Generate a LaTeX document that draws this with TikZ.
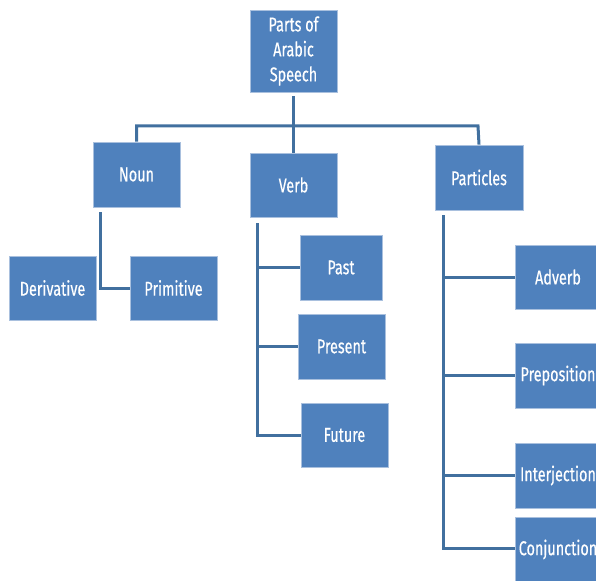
\documentclass[tikz,border=0pt]{standalone}
\usepackage{fontspec}
\setmainfont{Fira Sans}[FakeStretch=0.72,FakeBold=0.4]
\definecolor{boxfill}{HTML}{4F81BD}
\definecolor{boxline}{HTML}{A9C0DE}
\definecolor{connline}{HTML}{41709F}
\begin{document}
\begin{tikzpicture}[x=1pt,y=-1pt,
  box/.style={draw=boxline, fill=boxfill, line width=0.8pt, text=white, font=\fontsize{20}{25}\selectfont, align=center, inner sep=0pt},
  conn/.style={draw=connline, line width=3pt}]
\useasboundingbox (0,0) rectangle (596,580);
\clip (0,0) rectangle (596,580);
% nodes
\node[box, minimum width=87, minimum height=82] (top) at (293.5,51) {Parts of\\Arabic\\Speech};
\node[box, minimum width=87, minimum height=65] (noun) at (136.5,174.5) {Noun};
\node[box, minimum width=87, minimum height=64] (verb) at (293.5,185) {Verb};
\node[box, minimum width=88, minimum height=65] (part) at (479,177.5) {Particles};
\node[box, minimum width=87, minimum height=64] (deriv) at (52.5,288) {Derivative};
\node[box, minimum width=87, minimum height=64] (prim) at (173.5,288) {Primitive};
\node[box, minimum width=82, minimum height=65] (past) at (341,267.5) {Past};
\node[box, minimum width=87, minimum height=65] (pres) at (341.5,346.5) {Present};
\node[box, minimum width=87, minimum height=64] (fut) at (344.5,435) {Future};
\node[box, minimum width=86, minimum height=64] (adv) at (558,277) {Adverb};
\node[box, minimum width=86, minimum height=65] (prep) at (558,375.5) {Preposition};
\node[box, minimum width=86, minimum height=65] (inter) at (558,475.5) {Interjection};
\node[box, minimum width=86, minimum height=65] (conj) at (558,549.5) {Conjunction};
% coordinates
\coordinate (barR) at (478,126);
\coordinate (barM) at (293.5,126);
\coordinate (nTop) at (100,212);
\coordinate (nBot) at (100,288);
\coordinate (vTop) at (257,223);
\coordinate (vBot) at (257,435);
\coordinate (pTop) at (443,215);
\coordinate (pBot) at (443,548);
% connectors
\draw[conn] ([yshift=-4]top.south) -- (barM);
\draw[conn] (noun.north) |- (barR) -- (part.north);
\draw[conn] (barM) -- (verb.north);
\draw[conn] (nTop) -- (nBot) -- (prim.west);
\draw[conn] (vTop) -- (vBot) -- (fut.west);
\draw[conn] (vTop |- past.west) -- (past.west);
\draw[conn] (vTop |- pres.west) -- (pres.west);
\draw[conn] (pTop) -- (pBot) -- (pBot -| conj.west);
\draw[conn] (pTop |- adv.west) -- (adv.west);
\draw[conn] (pTop |- prep.west) -- (prep.west);
\draw[conn] (pTop |- inter.west) -- (inter.west);
\end{tikzpicture}
\end{document}
